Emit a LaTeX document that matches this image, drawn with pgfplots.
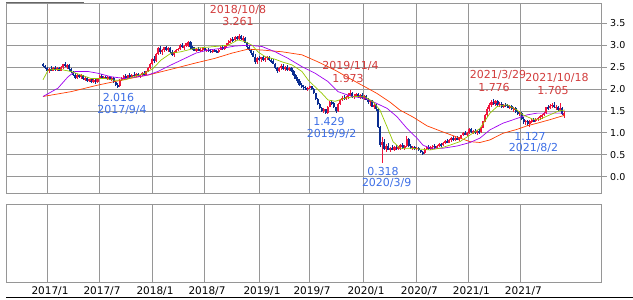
\documentclass[border=0pt]{standalone}
\usepackage{fontspec}
\setmainfont{DejaVu Sans}
\usepackage{pgfplots}
\usepackage{pgfplotstable}
\pgfplotsset{compat=1.18}
\definecolor{upc}{RGB}{240,20,60}
\definecolor{dnc}{RGB}{10,45,145}
\definecolor{maA}{RGB}{150,200,0}
\definecolor{maB}{RGB}{160,0,240}
\definecolor{maC}{RGB}{255,60,0}
\definecolor{gridc}{RGB}{150,150,150}
\definecolor{redt}{RGB}{210,60,60}
\definecolor{bluet}{RGB}{60,110,230}

\pgfplotstableread{
w o h l c
0 2.58 2.60 2.50 2.52
1 2.52 2.55 2.45 2.47
2 2.47 2.50 2.38 2.40
3 2.40 2.48 2.36 2.46
4 2.46 2.52 2.40 2.42
5 2.42 2.50 2.40 2.48
6 2.48 2.52 2.42 2.45
7 2.45 2.50 2.40 2.47
8 2.47 2.50 2.40 2.42
9 2.42 2.52 2.40 2.50
10 2.50 2.58 2.46 2.56
11 2.56 2.62 2.50 2.52
12 2.52 2.58 2.45 2.55
13 2.55 2.57 2.42 2.45
14 2.45 2.48 2.36 2.38
15 2.38 2.42 2.30 2.33
16 2.33 2.36 2.22 2.25
17 2.25 2.34 2.22 2.32
18 2.32 2.35 2.25 2.28
19 2.28 2.34 2.24 2.31
20 2.31 2.33 2.20 2.22
21 2.22 2.28 2.18 2.26
22 2.26 2.28 2.15 2.18
23 2.18 2.24 2.15 2.22
24 2.22 2.25 2.14 2.16
25 2.16 2.22 2.13 2.20
26 2.20 2.22 2.12 2.15
27 2.15 2.26 2.14 2.25
28 2.25 2.33 2.22 2.30
29 2.30 2.34 2.24 2.26
30 2.26 2.30 2.22 2.28
31 2.28 2.30 2.22 2.24
32 2.24 2.29 2.21 2.27
33 2.27 2.29 2.20 2.22
34 2.22 2.27 2.19 2.25
35 2.25 2.27 2.14 2.16
36 2.16 2.18 2.08 2.10
37 2.10 2.14 2.016 2.06
38 2.06 2.22 2.05 2.20
39 2.20 2.28 2.18 2.26
40 2.26 2.32 2.22 2.30
41 2.30 2.34 2.24 2.26
42 2.26 2.33 2.24 2.32
43 2.32 2.36 2.26 2.28
44 2.28 2.35 2.25 2.33
45 2.33 2.38 2.28 2.30
46 2.30 2.36 2.27 2.34
47 2.34 2.37 2.27 2.29
48 2.29 2.33 2.26 2.31
49 2.31 2.38 2.29 2.36
50 2.36 2.40 2.30 2.32
51 2.32 2.42 2.31 2.40
52 2.40 2.50 2.38 2.48
53 2.48 2.60 2.46 2.58
54 2.58 2.70 2.55 2.68
55 2.68 2.75 2.60 2.64
56 2.64 2.82 2.62 2.80
57 2.80 2.96 2.78 2.93
58 2.93 2.98 2.80 2.84
59 2.84 2.92 2.78 2.90
60 2.90 2.97 2.85 2.95
61 2.95 2.98 2.86 2.88
62 2.88 2.96 2.84 2.93
63 2.93 2.96 2.82 2.84
64 2.84 2.88 2.76 2.78
65 2.78 2.86 2.74 2.84
66 2.84 2.92 2.82 2.90
67 2.90 2.94 2.86 2.92
68 2.92 3.02 2.90 3.00
69 3.00 3.04 2.94 2.96
70 2.96 3.00 2.90 2.98
71 2.98 3.06 2.96 3.04
72 2.98 3.10 2.96 3.08
73 3.08 3.10 2.92 2.95
74 2.95 2.98 2.88 2.92
75 2.92 2.96 2.86 2.88
76 2.88 2.94 2.84 2.92
77 2.92 2.95 2.86 2.88
78 2.88 2.93 2.84 2.90
79 2.90 2.96 2.87 2.94
80 2.94 2.97 2.86 2.88
81 2.88 2.92 2.84 2.90
82 2.90 2.93 2.85 2.87
83 2.87 2.91 2.83 2.85
84 2.85 2.90 2.82 2.88
85 2.88 2.92 2.84 2.86
86 2.86 2.90 2.82 2.84
87 2.84 2.92 2.82 2.90
88 2.90 2.98 2.88 2.96
89 2.96 3.00 2.90 2.92
90 2.92 3.00 2.90 2.98
91 2.98 3.06 2.96 3.04
92 3.04 3.12 3.00 3.10
93 3.10 3.16 3.06 3.14
94 3.14 3.18 3.08 3.11
95 3.11 3.20 3.09 3.18
96 3.18 3.22 3.12 3.15
97 3.15 3.261 3.13 3.20
98 3.20 3.24 3.12 3.14
99 3.14 3.20 3.10 3.16
100 3.16 3.18 3.04 3.06
101 3.06 3.08 2.92 2.95
102 2.95 3.00 2.86 2.88
103 2.88 2.92 2.78 2.82
104 2.82 2.86 2.72 2.74
105 2.74 2.80 2.58 2.62
106 2.62 2.72 2.58 2.70
107 2.70 2.76 2.64 2.68
108 2.68 2.74 2.62 2.72
109 2.72 2.76 2.64 2.66
110 2.66 2.72 2.62 2.70
111 2.70 2.76 2.66 2.74
112 2.74 2.76 2.64 2.66
113 2.66 2.70 2.60 2.64
114 2.64 2.68 2.56 2.58
115 2.58 2.60 2.46 2.48
116 2.48 2.50 2.36 2.40
117 2.40 2.50 2.38 2.48
118 2.48 2.56 2.44 2.52
119 2.52 2.56 2.44 2.46
120 2.46 2.52 2.42 2.50
121 2.50 2.54 2.42 2.44
122 2.44 2.50 2.40 2.48
123 2.48 2.50 2.38 2.40
124 2.40 2.44 2.30 2.32
125 2.32 2.34 2.22 2.24
126 2.24 2.28 2.14 2.18
127 2.18 2.22 2.08 2.10
128 2.10 2.14 2.02 2.05
129 2.05 2.10 1.98 2.02
130 2.02 2.06 1.97 2.00
131 2.00 2.05 1.96 2.03
132 2.03 2.08 2.00 2.06
133 2.06 2.08 1.98 2.00
134 2.00 2.02 1.88 1.90
135 1.90 1.92 1.76 1.78
136 1.78 1.80 1.64 1.66
137 1.66 1.68 1.54 1.57
138 1.57 1.60 1.48 1.50
139 1.50 1.56 1.46 1.54
140 1.54 1.55 1.429 1.46
141 1.46 1.62 1.44 1.60
142 1.60 1.72 1.58 1.70
143 1.70 1.76 1.64 1.68
144 1.68 1.70 1.56 1.58
145 1.58 1.60 1.46 1.50
146 1.50 1.68 1.48 1.66
147 1.66 1.78 1.64 1.76
148 1.76 1.84 1.72 1.80
149 1.80 1.86 1.74 1.77
150 1.77 1.84 1.75 1.82
151 1.82 1.90 1.78 1.86
152 1.86 1.973 1.84 1.90
153 1.90 1.93 1.80 1.82
154 1.82 1.88 1.78 1.85
155 1.85 1.92 1.82 1.88
156 1.88 1.92 1.80 1.82
157 1.82 1.88 1.78 1.86
158 1.86 1.90 1.78 1.80
159 1.80 1.86 1.76 1.84
160 1.84 1.86 1.74 1.76
161 1.76 1.80 1.66 1.70
162 1.70 1.76 1.62 1.74
163 1.74 1.76 1.58 1.60
164 1.60 1.68 1.54 1.64
165 1.64 1.66 1.50 1.54
166 1.54 1.56 1.10 1.14
167 1.14 1.16 0.68 0.72
168 0.72 0.90 0.318 0.80
169 0.80 0.86 0.60 0.64
170 0.64 0.74 0.56 0.70
171 0.70 0.76 0.60 0.62
172 0.62 0.68 0.56 0.66
173 0.66 0.72 0.60 0.62
174 0.62 0.70 0.58 0.68
175 0.68 0.72 0.62 0.64
176 0.64 0.70 0.60 0.67
177 0.67 0.74 0.62 0.72
178 0.72 0.76 0.64 0.66
179 0.66 0.72 0.62 0.70
180 0.70 0.92 0.68 0.86
181 0.86 0.88 0.68 0.70
182 0.70 0.74 0.64 0.66
183 0.66 0.70 0.62 0.68
184 0.68 0.70 0.62 0.64
185 0.64 0.68 0.60 0.66
186 0.66 0.68 0.58 0.60
187 0.60 0.62 0.54 0.56
188 0.56 0.58 0.50 0.53
189 0.53 0.66 0.52 0.64
190 0.64 0.70 0.60 0.68
191 0.68 0.72 0.62 0.65
192 0.65 0.70 0.62 0.68
193 0.68 0.72 0.64 0.70
194 0.70 0.74 0.64 0.66
195 0.66 0.72 0.64 0.70
196 0.70 0.76 0.68 0.74
197 0.74 0.78 0.68 0.72
198 0.72 0.80 0.70 0.78
199 0.78 0.84 0.74 0.82
200 0.82 0.86 0.76 0.78
201 0.78 0.86 0.76 0.84
202 0.84 0.90 0.80 0.88
203 0.88 0.92 0.82 0.84
204 0.84 0.90 0.82 0.88
205 0.88 0.92 0.84 0.86
206 0.86 0.90 0.82 0.88
207 0.88 0.96 0.86 0.94
208 0.94 1.02 0.92 1.00
209 1.00 1.04 0.94 0.96
210 0.96 1.02 0.92 1.00
211 1.00 1.10 0.98 1.08
212 1.08 1.12 1.00 1.02
213 1.02 1.06 0.98 1.04
214 1.04 1.08 0.98 1.00
215 1.00 1.06 0.96 1.04
216 1.04 1.08 0.98 1.02
217 1.02 1.14 1.00 1.12
218 1.12 1.28 1.10 1.26
219 1.26 1.44 1.24 1.40
220 1.40 1.58 1.36 1.54
221 1.54 1.68 1.50 1.64
222 1.64 1.74 1.60 1.70
223 1.70 1.776 1.64 1.68
224 1.68 1.74 1.62 1.72
225 1.72 1.74 1.62 1.64
226 1.64 1.70 1.58 1.66
227 1.66 1.70 1.56 1.58
228 1.58 1.66 1.56 1.64
229 1.64 1.68 1.58 1.62
230 1.62 1.66 1.56 1.58
231 1.58 1.64 1.54 1.62
232 1.62 1.64 1.52 1.54
233 1.54 1.58 1.48 1.56
234 1.56 1.58 1.46 1.48
235 1.48 1.52 1.40 1.44
236 1.44 1.50 1.38 1.46
237 1.46 1.48 1.30 1.32
238 1.32 1.36 1.20 1.24
239 1.24 1.30 1.18 1.28
240 1.28 1.30 1.16 1.20
241 1.20 1.30 1.127 1.26
242 1.26 1.32 1.22 1.30
243 1.30 1.34 1.24 1.26
244 1.26 1.34 1.24 1.32
245 1.32 1.36 1.26 1.34
246 1.34 1.40 1.30 1.38
247 1.38 1.42 1.32 1.40
248 1.40 1.48 1.38 1.46
249 1.46 1.60 1.44 1.58
250 1.58 1.64 1.52 1.56
251 1.56 1.66 1.54 1.62
252 1.62 1.68 1.56 1.64
253 1.64 1.705 1.56 1.58
254 1.58 1.64 1.52 1.60
255 1.60 1.62 1.50 1.52
256 1.52 1.68 1.50 1.56
257 1.56 1.58 1.40 1.42
258 1.38 1.50 1.34 1.46
}\candles

\begin{document}
\begin{tikzpicture}
\useasboundingbox (0pt,0pt) rectangle (633pt,300pt);
\pgfplotsset{
  common/.style={
    scale only axis, width=595pt, anchor=south west,
    xmin=-17.97, xmax=276.58,
    xtick={2.13,27.87,54.11,79.85,107.08,131.83,158.56,185.0,210.74,236.49},
    xmajorgrids, grid style={gridc, line width=0.8pt},
    axis line style={gridc, line width=0.8pt},
    xtick style={draw=none},
  },
  candle/.style={draw=none, no marks, forget plot,
    error bars/.cd, y dir=both, y explicit, error mark=none,
    error bar style={#1}},
}
\begin{axis}[common, at={(6.7pt,106.7pt)}, height=190pt,
  ymin=-0.379, ymax=3.956,
  xticklabels={},
  ytick={0,0.5,1,1.5,2,2.5,3,3.5},
  ymajorgrids,
  ytick pos=right, yticklabel pos=right,
  tick align=outside, major tick length=5pt,
  ytick style={gridc, line width=0.8pt},
  yticklabel style={font=\fontsize{9.5}{10}\selectfont, anchor=west},
  /pgf/number format/.cd, fixed, fixed zerofill, precision=1, assume math mode=true,
]
% wicks
\addplot[candle={dnc, line width=0.8pt}]
  table[x=w, y expr={\thisrow{c}<\thisrow{o} ? (\thisrow{h}+\thisrow{l})/2 : nan}, y error expr={(\thisrow{h}-\thisrow{l})/2}] {\candles};
\addplot[candle={upc, line width=0.8pt}]
  table[x=w, y expr={\thisrow{c}<\thisrow{o} ? nan : (\thisrow{h}+\thisrow{l})/2}, y error expr={(\thisrow{h}-\thisrow{l})/2}] {\candles};
% bodies
\addplot[candle={dnc, line width=2.1pt}]
  table[x=w, y expr={\thisrow{c}<\thisrow{o} ? (\thisrow{o}+\thisrow{c})/2 : nan}, y error expr={max(abs(\thisrow{o}-\thisrow{c})/2,0.01)}] {\candles};
\addplot[candle={upc, line width=2.1pt}]
  table[x=w, y expr={\thisrow{c}<\thisrow{o} ? nan : (\thisrow{o}+\thisrow{c})/2}, y error expr={max(abs(\thisrow{o}-\thisrow{c})/2,0.01)}] {\candles};
% moving averages
\addplot[maC, line width=0.7pt] coordinates {(0,1.83) (13.9,1.94) (27.2,2.09) (40.6,2.22) (52,2.32) (63.4,2.45) (75.2,2.59) (85.1,2.70) (93.6,2.82) (101.5,2.91) (108.4,2.89) (118.3,2.85) (128.2,2.78) (136.1,2.62) (144.6,2.43) (153,2.21) (159.4,2.05) (165.3,1.90) (171.8,1.70) (176.7,1.52) (183.2,1.36) (190.1,1.16) (198,1.02) (206.4,0.88) (211.4,0.80) (216.3,0.78) (221.3,0.84) (227.7,0.99) (234.7,1.08) (239.6,1.16) (244.6,1.22) (250.9,1.30) (255.9,1.37) (258.4,1.40)};
\addplot[maB, line width=0.7pt] coordinates {(0,1.83) (7.4,2.02) (12.4,2.28) (15.8,2.40) (22.3,2.40) (27.2,2.36) (33.7,2.28) (40.6,2.24) (47,2.28) (52,2.32) (56.9,2.40) (63.4,2.55) (70.3,2.70) (75.7,2.82) (81.7,2.89) (88.6,2.93) (95,2.98) (101.5,3.00) (108.4,2.97) (114.9,2.85) (121.3,2.70) (128.2,2.51) (134.7,2.36) (141.1,2.17) (146,1.94) (153,1.83) (159.4,1.79) (163.4,1.71) (170.3,1.56) (175.2,1.37) (180.2,1.10) (185.1,0.88) (188.1,0.72) (191.6,0.65) (198,0.65) (205,0.70) (211.4,0.78) (216.3,0.88) (221.3,1.07) (227.7,1.22) (234.7,1.33) (239.6,1.41) (244.6,1.45) (250.9,1.45) (257.4,1.45)};
\addplot[maA, line width=0.7pt] coordinates {(0,2.21) (2.5,2.43) (5.9,2.45) (9.4,2.44) (13.9,2.40) (18.8,2.32) (23.8,2.24) (30.7,2.24) (35.6,2.20) (40.6,2.21) (45.5,2.29) (50.5,2.36) (54.5,2.47) (58.4,2.66) (63.4,2.82) (68.3,2.85) (75.2,2.93) (85.1,2.97) (91.6,3.00) (96.5,3.12) (100,3.08) (103.5,3.00) (106.4,2.85) (109.9,2.74) (114.9,2.68) (118.3,2.62) (123.3,2.55) (128.2,2.40) (131.2,2.21) (134.7,2.05) (138.1,1.90) (141.1,1.75) (144.6,1.72) (149.5,1.79) (154.5,1.83) (159.4,1.82) (163.4,1.71) (166.8,1.52) (170.3,1.14) (173.3,0.80) (176.7,0.65) (181.7,0.65) (186.6,0.63) (191.6,0.61) (196.5,0.65) (201.5,0.72) (206.4,0.80) (211.4,0.95) (216.3,1.10) (221.3,1.45) (224.8,1.60) (229.7,1.64) (234.7,1.52) (237.6,1.41) (242.6,1.31) (246,1.31) (250.9,1.41) (255.9,1.51) (258.4,1.52)};
\end{axis}

\begin{axis}[common, at={(6.7pt,17.3pt)}, height=78.4pt,
  ymin=0, ymax=1, ytick=\empty,
  xticklabels={2017/1,2017/7,2018/1,2018/7,2019/1,2019/7,2020/1,2020/7,2021/1,2021/7},
  xticklabel style={font=\fontsize{10.5}{11}\selectfont, xshift=2.7pt},
]
\end{axis}

\draw[black!60, line width=0.8pt] (6pt,297.3pt) -- (84pt,297.3pt);
\draw[black, line width=1pt] (6pt,2.7pt) -- (633pt,2.7pt);

\begin{scope}[every node/.style={font=\fontsize{11}{12}\selectfont, inner sep=0pt}]
\node[redt] at (238pt,290pt) {2018/10/8};
\node[redt] at (238pt,278.3pt) {3.261};
\node[bluet] at (118.5pt,202.5pt) {2.016};
\node[bluet] at (122pt,190pt) {2017/9/4};
\node[redt] at (350.5pt,234pt) {2019/11/4};
\node[redt] at (348pt,221.7pt) {1.973};
\node[bluet] at (329pt,178.2pt) {1.429};
\node[bluet] at (331.7pt,166pt) {2019/9/2};
\node[bluet] at (383pt,129pt) {0.318};
\node[bluet] at (386.7pt,117pt) {2020/3/9};
\node[redt] at (498pt,224.7pt) {2021/3/29};
\node[redt] at (494pt,212.5pt) {1.776};
\node[redt] at (557pt,221.7pt) {2021/10/18};
\node[redt] at (553pt,210pt) {1.705};
\node[bluet] at (530pt,164pt) {1.127};
\node[bluet] at (533.5pt,151.7pt) {2021/8/2};
\end{scope}
\end{tikzpicture}
\end{document}
